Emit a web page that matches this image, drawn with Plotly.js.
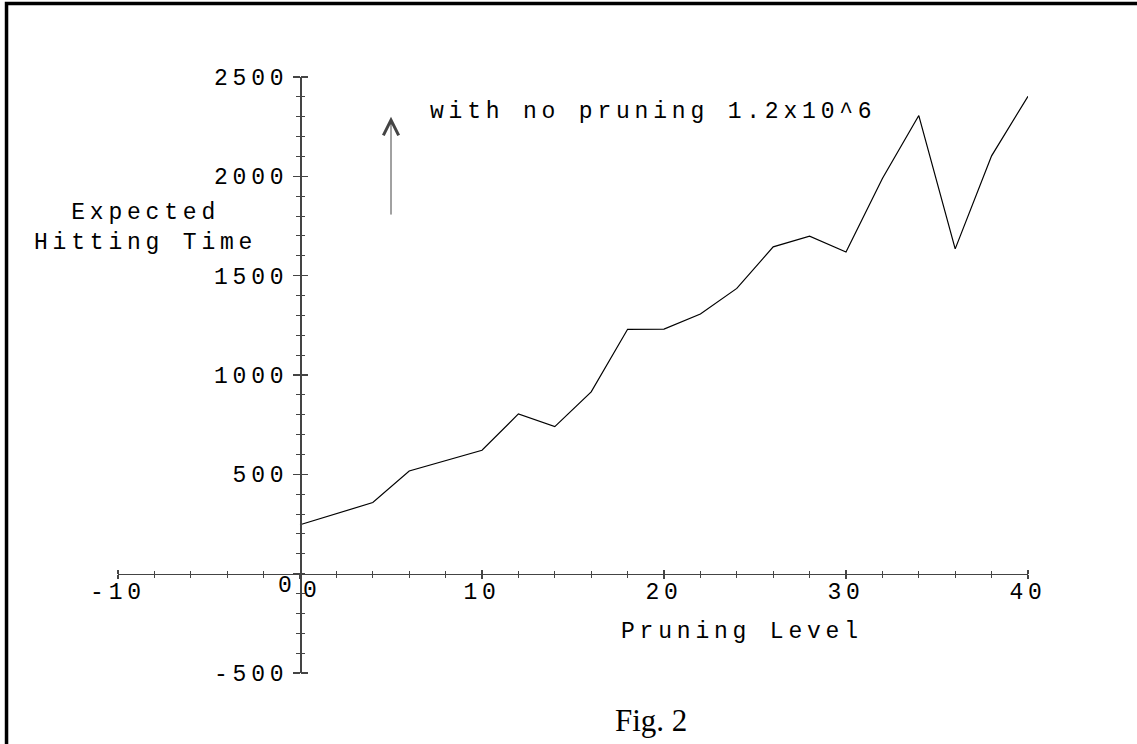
<!DOCTYPE html>
<html>
<head>
<meta charset="utf-8">
<script src="https://cdn.plot.ly/plotly-3.0.1.min.js"></script>
<style>
  html, body { margin: 0; padding: 0; background: #fff; }
  #chart { width: 1137px; height: 744px; }
  text[style*="Liberation Mono"] { letter-spacing: 4.8px; }
</style>
</head>
<body>
<div id="chart"></div>
<script>
// ---- data ----
const pruningLevel = [0, 2, 4, 6, 8, 10, 12, 14, 16, 18, 20, 22, 24, 26, 28, 30, 32, 34, 36, 38, 40];
const hittingTime  = [246, 302, 358, 517, 569, 621, 804, 740, 915, 1230, 1231, 1307, 1436, 1645, 1699, 1619, 1989, 2306, 1635, 2103, 2403];

const xTickVals = [-10, 0, 10, 20, 30, 40];
const xTickText = ['-10', '', '10', '20', '30', '40'];
const yTickVals = [-500, 0, 500, 1000, 1500, 2000, 2500];
const yTickText = ['-500', '', '500', '1000', '1500', '2000', '2500'];

const xRange = [-10, 40];
const yRange = [-500, 2500];

const yTitleText = 'Expected<br>Hitting Time';
const xTitleText = 'Pruning Level';
const noteText = 'with no pruning 1.2x10^6';
const captionText = 'Fig. 2';

// ---- layout ----
const mono = { family: '"Liberation Mono", monospace', size: 23, color: '#000' };
const axisColor = '#444';
const xPos = (0 - yRange[0]) / (yRange[1] - yRange[0]);   // x axis crosses at y = 0
const yPos = (0 - xRange[0]) / (xRange[1] - xRange[0]);   // y axis crosses at x = 0

const traces = [
  {
    x: pruningLevel, y: hittingTime, type: 'scatter', mode: 'lines',
    line: { color: '#000', width: 1.2 }, showlegend: false, hoverinfo: 'x+y'
  },
  {
    x: pruningLevel, y: hittingTime, type: 'scatter', mode: 'lines',
    xaxis: 'x2', yaxis: 'y2',
    line: { color: 'rgba(0,0,0,0)', width: 0 }, showlegend: false, hoverinfo: 'skip'
  }
];

const baseX = {
  range: xRange, domain: [0, 1], anchor: 'free', position: xPos,
  showgrid: false, zeroline: false, fixedrange: true,
  tickvals: xTickVals, ticktext: xTickText, tickwidth: 1.3, tickcolor: axisColor,
  ticks: 'outside', ticklen: 4
};
const baseY = {
  range: yRange, domain: [0, 1], anchor: 'free', position: yPos,
  showgrid: false, zeroline: false, fixedrange: true,
  tickvals: yTickVals, ticktext: yTickText, tickwidth: 1.3, tickcolor: axisColor,
  ticks: 'outside', ticklen: 7
};
const xMinor = { dtick: 2, tick0: 0, ticks: 'outside', ticklen: 2.5, tickwidth: 1, tickcolor: axisColor };
const yMinor = { dtick: 100, tick0: 0, ticks: 'outside', ticklen: 4, tickwidth: 1, tickcolor: axisColor };

const layout = {
  width: 1137, height: 744,
  margin: { l: 118, r: 109, t: 77, b: 71, pad: 0 },
  paper_bgcolor: '#fff', plot_bgcolor: 'rgba(0,0,0,0)',
  showlegend: false,
  xaxis: Object.assign({}, baseX, {
    side: 'bottom', showline: true, linecolor: axisColor, linewidth: 1.5,
    tickfont: mono, ticklabelstandoff: -8, minor: xMinor
  }),
  xaxis2: Object.assign({}, baseX, {
    overlaying: 'x', side: 'top', showline: false, showticklabels: false, minor: xMinor
  }),
  yaxis: Object.assign({}, baseY, {
    side: 'left', showline: true, linecolor: axisColor, linewidth: 1.5,
    tickfont: mono, minor: yMinor
  }),
  yaxis2: Object.assign({}, baseY, {
    overlaying: 'y', side: 'right', showline: false, showticklabels: false, minor: yMinor
  }),
  annotations: [
    { text: yTitleText, xref: 'x', yref: 'y', x: -8.5, y: 1739, showarrow: false,
      xanchor: 'center', yanchor: 'middle', align: 'center', font: mono },
    { text: xTitleText, xref: 'x', yref: 'y', x: 24.3, y: -292, showarrow: false,
      xanchor: 'center', yanchor: 'middle', font: mono },
    { text: noteText, xref: 'x', yref: 'y', x: 7.05, y: 2322, showarrow: false,
      xanchor: 'left', yanchor: 'middle', font: mono },
    { text: '', xref: 'x', yref: 'y', x: 5, y: 2300, axref: 'x', ayref: 'y', ax: 5, ay: 1800,
      showarrow: true, arrowhead: 5, arrowsize: 3, arrowwidth: 1, arrowcolor: axisColor },
    { text: '0', xref: 'x', yref: 'y', x: 0.7, y: -86, showarrow: false,
      xanchor: 'center', yanchor: 'middle', font: mono },
    { text: '0', xref: 'x', yref: 'y', x: -0.7, y: -60, showarrow: false,
      xanchor: 'center', yanchor: 'middle', font: mono },
    { text: captionText, xref: 'paper', yref: 'paper', x: 0.586, y: -0.08, showarrow: false,
      xanchor: 'center', yanchor: 'middle',
      font: { family: '"Liberation Serif", serif', size: 31, color: '#000' } }
  ],
  shapes: [
    { type: 'path', xref: 'paper', yref: 'paper', layer: 'above',
      path: 'M -0.1225,-0.2 L -0.1225,1.1235 L 1.2,1.1235',
      line: { color: '#000', width: 3.5 } }
  ]
};

Plotly.newPlot('chart', traces, layout, { displayModeBar: false, staticPlot: true });
</script>
</body>
</html>
